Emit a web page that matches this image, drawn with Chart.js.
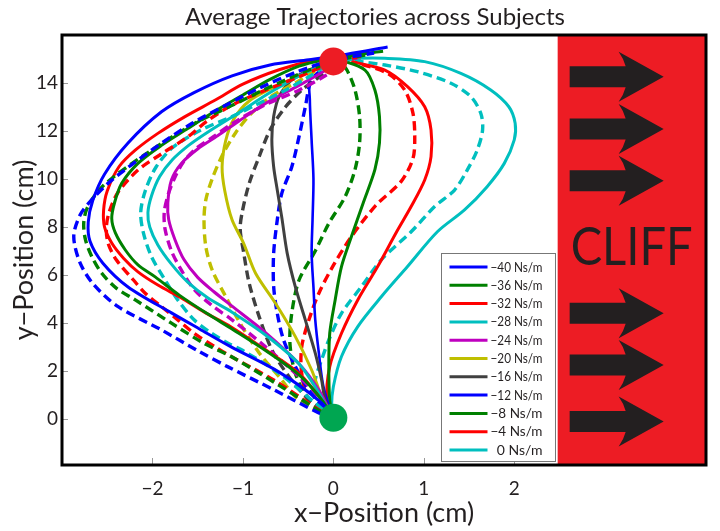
<!DOCTYPE html>
<html>
<head>
<meta charset="utf-8">
<script src="https://cdn.jsdelivr.net/npm/chart.js@4.4.1/dist/chart.umd.min.js"></script>
<style>
  html, body { margin: 0; background: #fff; }
</style>
</head>
<body>
<canvas id="traj" width="720" height="531"></canvas>
<script>
// stiffness levels (legend) and line colours
const stiffness = [-40, -36, -32, -28, -24, -20, -16, -12, -8, -4, 0];
const colors = ["#0000ff", "#008000", "#ff0000", "#00bfbf", "#bf00bf", "#bfbf00", "#404040",
                "#0000ff", "#008000", "#ff0000", "#00bfbf"];

// solid trajectories [x cm, y cm]
const solidM40 = [[0,0],[-0.13,0.67],[-0.6,1.95],[-1.13,3.0],[-1.48,3.75],[-1.79,4.42],[-2.27,5.5],[-2.55,6.5],[-2.69,7.4],[-2.71,8.2],[-2.66,9.1],[-2.53,10.2],[-2.27,11.5],[-1.9,12.8],[-1.54,13.6],[-1.12,14.3],[-0.7,14.75],[-0.27,14.97],[0.15,15.2],[0.6,15.5]];
const solidM36 = [[0,0],[-0.12,0.75],[-0.37,1.8],[-0.73,2.8],[-1.1,3.7],[-1.4,4.4],[-1.7,5.15],[-1.97,5.92],[-2.16,6.42],[-2.3,7.04],[-2.41,7.75],[-2.45,8.35],[-2.42,9.0],[-2.34,9.82],[-2.16,10.65],[-1.9,11.4],[-1.61,12.1],[-1.32,12.8],[-1.0,13.5],[-0.7,14.15],[-0.38,14.7],[-0.1,14.97],[0.2,15.15],[0.55,15.32]];
const solidM32 = [[0,0],[-0.13,0.79],[-0.38,1.9],[-0.75,2.88],[-1.13,3.83],[-1.43,4.46],[-1.68,5.04],[-1.94,5.58],[-2.16,6.13],[-2.32,6.7],[-2.45,7.33],[-2.53,8.0],[-2.54,8.7],[-2.5,9.5],[-2.37,10.51],[-2.19,11.2],[-1.94,11.9],[-1.64,12.6],[-1.3,13.3],[-1.0,13.95],[-0.6,14.55],[-0.2,14.96],[0.1,15.1],[0.4,15.25]];
const solidM28 = [[0,0],[-0.16,1.08],[-0.38,2.3],[-0.75,3.5],[-1.12,4.45],[-1.39,5.05],[-1.61,5.7],[-1.79,6.45],[-1.94,7.25],[-2.03,8.0],[-2.05,8.6],[-2.01,9.3],[-1.92,10.1],[-1.78,10.8],[-1.6,11.4],[-1.39,11.95],[-1.05,12.75],[-0.7,13.6],[-0.35,14.35],[0,14.9],[0.3,15.1]];
const solidM24 = [[0,0],[-0.16,1.2],[-0.38,2.3],[-0.75,3.6],[-1.12,4.7],[-1.32,5.3],[-1.5,5.9],[-1.65,6.63],[-1.75,7.46],[-1.82,8.3],[-1.83,9.0],[-1.79,9.96],[-1.68,10.65],[-1.5,11.25],[-1.28,11.8],[-1.05,12.4],[-0.75,13.15],[-0.38,13.9],[-0.1,14.5],[0.05,14.9],[0.3,15.05]];
const solidM20 = [[0,0],[-0.13,0.93],[-0.24,2.04],[-0.42,3.43],[-0.64,4.82],[-0.86,6.07],[-0.99,7.3],[-1.12,8.3],[-1.2,9.5],[-1.23,10.5],[-1.19,11.6],[-1.1,12.5],[-0.93,13.25],[-0.64,13.85],[-0.27,14.47],[0,14.9],[0.3,15.05]];
const solidM16 = [[0,0],[-0.09,0.79],[-0.13,1.62],[-0.2,2.74],[-0.31,4.13],[-0.42,5.5],[-0.51,6.9],[-0.57,8.4],[-0.62,9.54],[-0.66,10.51],[-0.68,11.63],[-0.66,12.6],[-0.6,13.43],[-0.46,14.13],[-0.27,14.54],[0,14.9],[0.3,15.05]];
const solidM12 = [[0,0],[-0.11,1.35],[-0.16,2.74],[-0.2,4.13],[-0.22,5.5],[-0.24,6.9],[-0.23,8.3],[-0.22,10.0],[-0.24,11.6],[-0.26,13.3],[-0.25,14.4],[0,14.95],[0.3,15.1]];
const solidM8  = [[0,0],[-0.04,0.79],[-0.05,2.18],[-0.04,3.57],[0.02,4.96],[0.09,6.35],[0.2,7.6],[0.33,9.0],[0.46,10.4],[0.51,11.5],[0.51,12.6],[0.46,13.7],[0.35,14.54],[0.05,15.0]];
const solidM4  = [[0,0],[-0.07,0.79],[-0.04,2.18],[0.09,3.57],[0.27,4.96],[0.49,6.35],[0.7,7.8],[0.86,8.85],[1.01,9.96],[1.08,10.93],[1.08,12.04],[1.01,13.01],[0.82,13.85],[0.57,14.54],[0.2,14.89]];
const solidP0  = [[0,0],[-0.02,0.5],[0,1.34],[0.09,2.6],[0.27,3.85],[0.53,5.09],[0.82,6.35],[1.15,7.8],[1.45,8.71],[1.7,9.68],[1.89,10.65],[2.0,11.63],[2.01,12.32],[1.94,13.01],[1.74,13.71],[1.41,14.4],[1.01,14.89],[0.57,15.03],[0.16,15.03]];

// dashed trajectories [x cm, y cm]
const dashM40 = [[0,0],[-0.16,0.25],[-0.65,1.2],[-1.17,2.18],[-1.48,2.8],[-1.9,3.71],[-2.38,4.68],[-2.65,5.6],[-2.8,6.5],[-2.87,7.6],[-2.8,8.5],[-2.68,9.1],[-2.45,9.95],[-2.01,11.2],[-1.57,12.3],[-1.2,13.05],[-0.81,13.8],[-0.38,14.5],[0,14.95],[0.45,15.25]];
const dashM36 = [[0,0],[-0.14,0.3],[-0.6,1.4],[-1.13,2.6],[-1.43,3.15],[-1.79,3.99],[-2.19,4.96],[-2.4,5.45],[-2.56,6.07],[-2.67,6.76],[-2.74,7.46],[-2.76,8.15],[-2.72,8.8],[-2.55,9.7],[-2.09,11.0],[-1.54,12.3],[-1.1,13.1],[-0.75,13.75],[-0.27,14.54],[0.05,14.95],[0.4,15.2]];
const dashM32 = [[0,0],[-0.15,0.35],[-0.65,1.6],[-1.13,2.6],[-1.31,3.01],[-1.54,3.57],[-1.72,4.13],[-1.9,4.68],[-2.08,5.24],[-2.21,5.79],[-2.4,6.63],[-2.49,7.32],[-2.51,7.95],[-2.48,8.6],[-2.38,9.45],[-2.16,10.37],[-1.9,11.05],[-1.61,11.75],[-1.4,12.4],[-1.12,13.08],[-0.75,13.7],[-0.38,14.26],[0,14.85],[0.35,15.15]];
const dashM28 = [[0,0],[-0.15,0.5],[-0.6,1.9],[-1.0,2.85],[-1.17,3.17],[-1.35,3.58],[-1.54,4.13],[-1.72,4.96],[-1.86,5.79],[-2.01,6.76],[-2.1,7.75],[-2.13,8.6],[-2.08,9.5],[-1.96,10.5],[-1.78,11.3],[-1.46,12.05],[-1.12,12.6],[-0.86,13.08],[-0.53,13.7],[-0.27,14.26],[0,14.85],[0.3,15.05]];
const dashM24 = [[0,0],[-0.18,1.0],[-0.38,1.76],[-0.75,3.01],[-1.12,4.13],[-1.35,4.75],[-1.54,5.4],[-1.68,6.2],[-1.79,7.0],[-1.86,7.9],[-1.87,8.6],[-1.83,9.3],[-1.76,10.0],[-1.66,10.7],[-1.52,11.26],[-1.33,11.75],[-1.1,12.35],[-0.75,13.1],[-0.38,13.7],[-0.09,14.3],[0.1,14.75]];
const dashM20 = [[0,0],[-0.38,0.79],[-0.6,1.76],[-0.82,2.75],[-1.01,3.85],[-1.19,5.1],[-1.34,6.21],[-1.41,7.18],[-1.43,8.3],[-1.41,9.13],[-1.34,10.0],[-1.23,10.97],[-1.08,11.93],[-0.9,12.76],[-0.68,13.46],[-0.42,14.0],[-0.2,14.5],[0,14.85]];
const dashM16 = [[0,0],[-0.27,0.79],[-0.49,1.76],[-0.68,2.88],[-0.82,4.26],[-0.93,5.65],[-0.99,6.9],[-1.03,7.9],[-1.01,8.57],[-0.93,9.82],[-0.82,10.93],[-0.7,12.04],[-0.53,13.0],[-0.35,13.7],[-0.2,14.13],[0,14.7]];
const dashM12 = [[0,0],[-0.27,1.2],[-0.42,2.18],[-0.55,3.29],[-0.62,4.4],[-0.66,5.52],[-0.66,6.9],[-0.62,8.29],[-0.57,9.4],[-0.46,10.5],[-0.38,11.75],[-0.31,13.0],[-0.24,14.13],[-0.05,14.8]];
const dashM8  = [[0,0],[-0.27,0.79],[-0.42,1.9],[-0.48,3.15],[-0.46,4.4],[-0.38,5.78],[-0.2,7.0],[-0.05,8.15],[0.13,9.26],[0.24,10.4],[0.29,11.5],[0.29,12.6],[0.24,13.7],[0.15,14.54],[0.05,15.0]];
const dashM4  = [[0,0],[-0.27,0.79],[-0.35,1.9],[-0.35,3.0],[-0.27,4.13],[-0.16,5.24],[0.0,6.4],[0.2,7.6],[0.47,8.9],[0.75,9.9],[0.88,10.85],[0.9,11.76],[0.88,12.74],[0.79,13.7],[0.6,14.4],[0.2,14.9]];
const dashP0  = [[0,0],[-0.2,0.79],[-0.2,1.62],[-0.13,2.46],[-0.05,3.29],[0.09,4.4],[0.31,5.51],[0.53,6.63],[0.86,7.8],[1.12,8.85],[1.34,9.54],[1.48,10.37],[1.59,11.2],[1.65,12.04],[1.63,12.74],[1.52,13.43],[1.3,13.99],[0.93,14.47],[0.57,14.75],[0.16,14.96]];

const solidTracks = [solidM40, solidM36, solidM32, solidM28, solidM24, solidM20, solidM16, solidM12, solidM8, solidM4, solidP0];
const dashTracks  = [dashM40, dashM36, dashM32, dashM28, dashM24, dashM20, dashM16, dashM12, dashM8, dashM4, dashP0];

// start and target markers
const startPoint = [0, 0.05];
const targetPoint = [0, 14.9];

// axis ticks
const xTicks = [-2, -1, 0, 1, 2];
const yTicks = [0, 2, 4, 6, 8, 10, 12, 14];

// cliff decoration (data units)
const cliffStart = 2.48;
const arrowRows = [14.26, 12.08, 9.93, 4.4, 2.25, -0.11];

const FONT = "Lato, 'Open Sans', sans-serif";
const TITLE = "Average Trajectories across Subjects";
const minus = v => (v < 0 ? "\u2212" + Math.abs(v) : String(v));
const toXY = arr => arr.map(p => ({ x: p[0], y: p[1] }));

const datasets = [];
datasets.push({ data: toXY([targetPoint]), pointRadius: 14, pointBackgroundColor: "#ed1c24", pointBorderWidth: 0, showLine: false, order: -1 });
datasets.push({ data: toXY([startPoint]), pointRadius: 14, pointBackgroundColor: "#00a651", pointBorderWidth: 0, showLine: false, order: -1 });
stiffness.forEach((k, i) => {
	datasets.push({
		label: minus(k) + " Ns/m",
		inLegend: true,
		data: toXY(solidTracks[i]),
		borderColor: colors[i],
		borderWidth: i === 7 ? 2.6 : 3,
		showLine: true,
		pointRadius: 0,
		tension: 0.3,
	});
	datasets.push({
		label: minus(k) + " Ns/m dashed",
		data: toXY(dashTracks[i]),
		borderColor: colors[i],
		borderWidth: 3.4,
		borderDash: [9, 5],
		showLine: true,
		pointRadius: 0,
		tension: 0.3,
	});
});

// red cliff panel with arrows, frame, inner ticks, legend, title
const cliffPanel = {
	id: "cliffPanel",
	beforeDatasetsDraw(chart) {
		const { ctx, chartArea: a, scales: { x, y } } = chart;
		const left = x.getPixelForValue(cliffStart);
		ctx.save();
		ctx.fillStyle = "#ed1c24";
		ctx.fillRect(left, a.top, a.right - left, a.bottom - a.top);
		ctx.fillStyle = "#231f20";
		const tail = left + 12, neck = left + 68, back = left + 61, tip = left + 106;
		arrowRows.forEach(v => {
			const cy = y.getPixelForValue(v);
			ctx.beginPath();
			ctx.moveTo(tail, cy - 10.5);
			ctx.lineTo(neck, cy - 10.5);
			ctx.quadraticCurveTo(neck - 2, cy - 18, back, cy - 25);
			ctx.lineTo(tip, cy);
			ctx.lineTo(back, cy + 25);
			ctx.quadraticCurveTo(neck - 2, cy + 18, neck, cy + 10.5);
			ctx.lineTo(tail, cy + 10.5);
			ctx.closePath();
			ctx.fill();
		});
		ctx.font = "52px " + FONT;
		ctx.textAlign = "center";
		ctx.textBaseline = "alphabetic";
		ctx.fillText("CLIFF", left + 74, y.getPixelForValue(6.42), 122);
		ctx.restore();
	},
	afterDraw(chart) {
		const { ctx, chartArea: a, scales: { x, y } } = chart;
		ctx.save();
		// title
		ctx.fillStyle = "#231f20";
		ctx.font = "24px " + FONT;
		ctx.textAlign = "center";
		ctx.textBaseline = "alphabetic";
		ctx.fillText(TITLE, 375, 25, 384);
		// inner ticks
		ctx.strokeStyle = "#999";
		ctx.lineWidth = 1;
		xTicks.forEach(v => {
			const px = Math.round(x.getPixelForValue(v)) + 0.5;
			ctx.beginPath(); ctx.moveTo(px, a.bottom); ctx.lineTo(px, a.bottom - 7); ctx.stroke();
		});
		yTicks.forEach(v => {
			const py = Math.round(y.getPixelForValue(v)) + 0.5;
			ctx.beginPath(); ctx.moveTo(a.left, py); ctx.lineTo(a.left + 6, py); ctx.stroke();
		});
		// legend box
		const left = x.getPixelForValue(cliffStart);
		const items = chart.data.datasets.filter(d => d.inLegend);
		const bw = 114, bh = 208;
		const bx = Math.round(left) - bw - 3 + 0.5, by = Math.round(a.bottom) - bh - 4 + 0.5;
		ctx.fillStyle = "#fff";
		ctx.fillRect(bx, by, bw, bh);
		ctx.strokeStyle = "#777";
		ctx.strokeRect(bx, by, bw, bh);
		ctx.font = "14px " + FONT;
		ctx.textAlign = "right";
		ctx.textBaseline = "middle";
		items.forEach((d, i) => {
			const ry = by + 13.5 + i * 18.3;
			ctx.strokeStyle = d.borderColor;
			ctx.lineWidth = 3;
			ctx.beginPath(); ctx.moveTo(bx + 8, ry); ctx.lineTo(bx + 46, ry); ctx.stroke();
			ctx.fillStyle = "#231f20";
			ctx.fillText(d.label, bx + 101, ry, 52);
		});
		// frame
		ctx.strokeStyle = "#000";
		ctx.lineWidth = 3;
		ctx.strokeRect(a.left, a.top, a.right - a.left, a.bottom - a.top);
		ctx.restore();
	},
};

const ctx = document.getElementById("traj");
new Chart(ctx, {
	type: "scatter",
	data: { datasets },
	options: {
		responsive: false,
		animation: false,
		layout: { padding: { right: 10, left: 0, top: 35, bottom: 0 } },
		plugins: {
			legend: { display: false },
			tooltip: { enabled: false },
			title: { display: false },
		},
		scales: {
			x: {
				type: "linear",
				min: -3,
				max: 4.12,
				afterBuildTicks: s => { s.ticks = xTicks.map(v => ({ value: v })); },
				afterFit: s => { s.height = 66; },
				grid: { display: false, drawTicks: false },
				border: { display: false },
				ticks: { color: "#231f20", font: { family: FONT, size: 19 }, padding: 12, callback: v => minus(v), maxRotation: 0 },
				title: { display: true, text: "x\u2212Position (cm)", color: "#231f20", font: { family: FONT, size: 27 }, padding: { top: 0, bottom: 2 } },
			},
			y: {
				type: "linear",
				min: -1.92,
				max: 16,
				afterBuildTicks: s => { s.ticks = yTicks.map(v => ({ value: v })); },
				afterFit: s => { s.width = 62; },
				grid: { display: false, drawTicks: false },
				border: { display: false },
				ticks: { color: "#231f20", font: { family: FONT, size: 19 }, padding: 4, callback: v => minus(v) },
				title: { display: true, text: "y\u2212Position (cm)", color: "#231f20", font: { family: FONT, size: 27 }, padding: { top: 8, bottom: 0 } },
			},
		},
	},
	plugins: [cliffPanel],
});
</script>
</body>
</html>
